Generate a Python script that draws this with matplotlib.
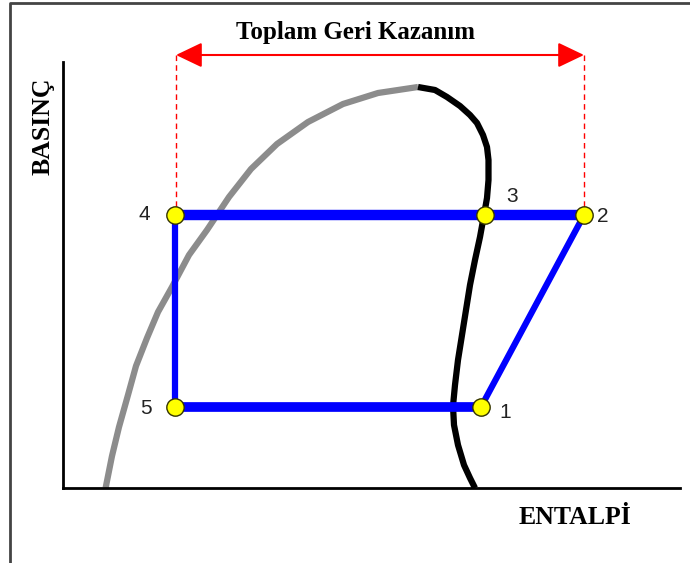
import matplotlib.pyplot as plt
from matplotlib.patches import FancyArrowPatch

# Diagram units: enthalpy and pressure in arbitrary units (origin at the axes corner)
liq_h = [42.6, 49, 56, 65, 73, 84, 95, 109, 126, 144, 166, 188, 214, 245, 280, 315, 355]
liq_p = [0, 32, 61, 93, 122, 150, 176, 201, 233, 258, 291, 319, 344, 366, 384, 395, 401]

vap_h = [355, 372, 384, 397, 407, 414, 420, 424, 425.5, 425.5, 424, 421, 417, 412,
         407, 403, 399, 395, 392, 390, 391, 395, 401, 407, 412]
vap_p = [401, 398, 391, 382, 373, 365, 353, 341, 328, 308, 290, 273, 251, 228,
         203, 178, 153, 128, 103, 82, 63, 43, 23, 10, 0]

cycle_h = [112, 112, 422, 521, 418, 112]
cycle_p = [81, 273, 273, 273, 81, 81]
point_names = ["5", "4", "3", "2", "1"]
name_dx = [-29, -31, 27, 19, 24]
name_dy = [-1, 0, 18, -2, -6]

recovery_h = [113, 521]
recovery_p = 433

plt.rcParams['font.family'] = ['Liberation Serif', 'DejaVu Serif']

fig = plt.figure(figsize=(6.9, 5.63), dpi=100)
ax = fig.add_axes([63 / 690, 75 / 563, 617 / 690, 426 / 563])
ax.set_xlim(0, 617)
ax.set_ylim(0, 426)
for s in ['top', 'right']:
    ax.spines[s].set_visible(False)
ax.spines['left'].set_linewidth(2)
ax.spines['bottom'].set_linewidth(2)
ax.set_xticks([])
ax.set_yticks([])

# outer frame
fig.add_artist(plt.Line2D([10 / 690, 10 / 690, 1], [0, 1 - 3 / 563, 1 - 3 / 563],
                          color='#444444', lw=2))

# saturation dome
ax.plot(liq_h, liq_p, color='#8c8c8c', lw=4.5, solid_capstyle='butt',
        solid_joinstyle='round')
ax.plot(vap_h, vap_p, color='black', lw=4.5, solid_capstyle='butt',
        solid_joinstyle='round')

# cycle
ax.plot(cycle_h[:2], cycle_p[:2], color='blue', lw=4.5)
ax.plot(cycle_h[1:4], cycle_p[1:4], color='blue', lw=7.5)
ax.plot(cycle_h[3:5], cycle_p[3:5], color='blue', lw=4.5)
ax.plot(cycle_h[4:6], cycle_p[4:6], color='blue', lw=7)
ax.plot(cycle_h[:5], cycle_p[:5], 'o', ms=12.5, mfc='yellow', mec='#333300', mew=1,
        zorder=5)
for h, p, n, dx, dy in zip(cycle_h, cycle_p, point_names, name_dx, name_dy):
    ax.text(h + dx, p + dy, n, fontsize=15, family='Liberation Sans',
            ha='center', va='center', color='#222222')

# total recovery arrow
for h in recovery_h:
    ax.plot([h, h], [recovery_p, cycle_p[2] + 8], color='red', lw=1, ls=(0, (4, 3)),
            clip_on=False)
arrow = FancyArrowPatch((recovery_h[0], recovery_p), (recovery_h[1], recovery_p),
                        arrowstyle='<|-|>,head_length=1.15,head_width=0.55',
                        mutation_scale=14, color='red', lw=1.5,
                        shrinkA=0, shrinkB=0, clip_on=False)
ax.add_patch(arrow)
ax.text(293, 455, 'Toplam Geri Kazanım', fontsize=18, fontweight='bold',
        ha='center', va='center')

ax.text(-20, 362, 'BASINÇ', fontsize=18.5, fontweight='bold', rotation=90,
        ha='center', va='center')
ax.text(512, -29, 'ENTALPİ', fontsize=18.5, fontweight='bold',
        ha='center', va='center')

fig.savefig('out.png', dpi=100)
